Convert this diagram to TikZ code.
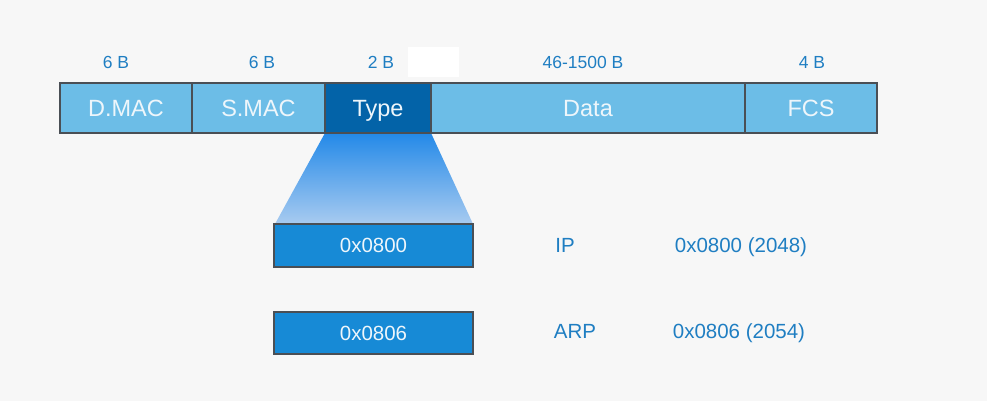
\documentclass[tikz,border=0pt]{standalone}
\usepackage{fontspec}
\setmainfont{Liberation Sans}
\definecolor{bg}{HTML}{F7F7F7}
\definecolor{lightbox}{HTML}{6CBDE7}
\definecolor{darkbox}{HTML}{0363A8}
\definecolor{midbox}{HTML}{178AD6}
\definecolor{edge}{HTML}{4A4F55}
\definecolor{lbl}{HTML}{1F7EC2}
\definecolor{ftext}{HTML}{EEF6FB}
\definecolor{gtop}{HTML}{2389E8}
\definecolor{gbot}{HTML}{A8CBF0}
\begin{document}
\begin{tikzpicture}[x=1pt,y=-1pt,
  field/.style={text height=16.8pt,text depth=0pt,draw=edge,line width=1.6pt,fill=lightbox,text=ftext,font=\fontsize{23.5}{26}\selectfont,inner sep=0pt},
  valbox/.style={text height=14.7pt,text depth=0pt,draw=edge,line width=1.2pt,fill=midbox,text=ftext,font=\fontsize{20.5}{23}\selectfont,inner sep=0pt},
  size/.style={text=lbl,font=\fontsize{17.5}{20}\selectfont,inner sep=0pt,anchor=base},
  info/.style={text=lbl,font=\fontsize{20.5}{23}\selectfont,inner sep=0pt,anchor=base}]
\fill[bg] (0,0) rectangle (987,401);
\useasboundingbox (0,0) rectangle (987,401);
% gradient trapezoid
\shade[top color=gtop,bottom color=gbot] (325,133) -- (431,133) -- (473,224) -- (275,224) -- cycle;
% top row
\node[field,minimum width=132pt,minimum height=50pt] (dmac) at (126,108) {D.MAC};
\node[field,minimum width=133pt,minimum height=50pt] (smac) at (258.5,108) {S.MAC};
\node[field,fill=darkbox,minimum width=106pt,minimum height=50pt] (type) at (378,108) {Type};
\node[field,minimum width=314pt,minimum height=50pt] (data) at (588,108) {Data};
\node[field,minimum width=132pt,minimum height=50pt] (fcs) at (811,108) {FCS};
% sizes
\node[size] (s1) at (116,69) {6 B};
\node[size] (s2) at (262,69) {6 B};
\node[size] (s3) at (381,69) {2 B};
\node[fill=white,minimum width=51pt,minimum height=30pt,inner sep=0pt] (blank) at (433.5,62) {};
\node[size] (s4) at (583,69) {46-1500 B};
\node[size] (s5) at (812,69) {4 B};
% value boxes
\node[valbox,minimum width=199pt,minimum height=43pt] (v1) at (373.5,245.5) {0x0800};
\node[valbox,minimum width=199pt,minimum height=42pt] (v2) at (373.5,333) {0x0806};
% info
\node[info] (ip) at (565,252.5) {IP};
\node[info] (ipv) at (741,252.5) {0x0800 (2048)};
\node[info] (arp) at (575,338.5) {ARP};
\node[info] (arpv) at (739,338.5) {0x0806 (2054)};
\end{tikzpicture}
\end{document}
